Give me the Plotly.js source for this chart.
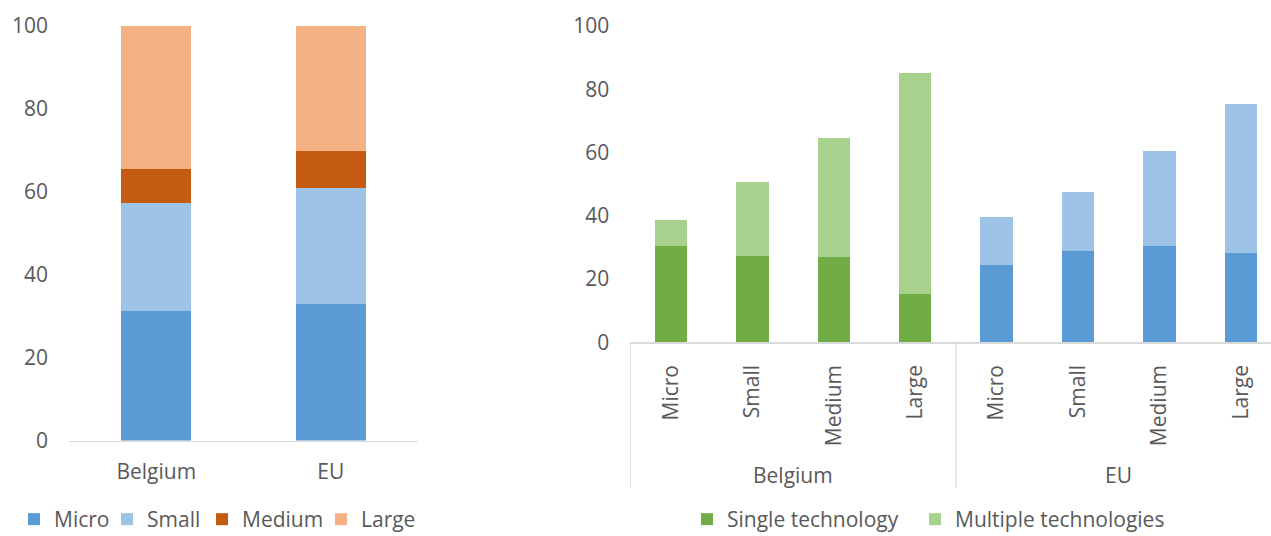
<!DOCTYPE html>
<html><head><meta charset="utf-8">
<script src="https://cdn.plot.ly/plotly-3.0.1.min.js"></script>
<style>html,body{margin:0;padding:0;background:#fff;overflow:hidden}#chart{width:1271px;height:536px}</style>
</head><body><div id="chart"></div>
<script>
// Left chart: share of firms by size class (%)
const countries = ['Belgium', 'EU'];
const shareMicro = [31.2, 32.9];
const shareSmall = [26.0, 27.9];
const shareMedium = [8.2, 9.1];
const shareLarge = [34.6, 30.1];

// Right chart: single vs multiple technologies by size class (%)
const groups = ['Belgium', 'EU'];
const sizeLabels = ['Micro', 'Small', 'Medium', 'Large'];
const belgiumSingle = [30.4, 27.4, 27.1, 15.4];
const belgiumMultiple = [8.3, 23.4, 37.5, 69.8];
const euSingle = [24.4, 28.9, 30.4, 28.2];
const euMultiple = [15.2, 18.6, 30.1, 47.1];

const yTicks = [0, 20, 40, 60, 80, 100];

const FONT = 'Open Sans, Liberation Sans, sans-serif';
const GREY = '#595959';
const LINE = '#D9D9D9';
const FS = 21;

const bePos = sizeLabels.map((_, i) => i);
const euPos = sizeLabels.map((_, i) => i + sizeLabels.length);
const allPos = bePos.concat(euPos);
const allText = sizeLabels.concat(sizeLabels);

function bar(x, y, name, color, xa, ya, legend, show, lw) {
  const t = {type: 'bar', x: x, y: y, name: name, marker: {color: color, line: {width: 0}},
    xaxis: xa, yaxis: ya, legend: legend, showlegend: show, hoverinfo: 'skip'};
  if (lw) t.legendwidth = lw;
  return t;
}

const data = [
  bar(countries, shareMicro, 'Micro', '#5B9BD5', 'x', 'y', 'legend', true, 48),
  bar(countries, shareSmall, 'Small', '#9DC3E6', 'x', 'y', 'legend', true, 50),
  bar(countries, shareMedium, 'Medium', '#C55A11', 'x', 'y', 'legend', true, 74),
  bar(countries, shareLarge, 'Large', '#F4B183', 'x', 'y', 'legend', true, 56),
  bar(bePos, belgiumSingle, 'Single technology', '#70AD47', 'x2', 'y2', 'legend2', true, 183),
  bar(bePos, belgiumMultiple, 'Multiple technologies', '#A9D18E', 'x2', 'y2', 'legend2', true, 215),
  bar(euPos, euSingle, 'Single technology (EU)', '#5B9BD5', 'x2', 'y2', 'legend2', false),
  bar(euPos, euMultiple, 'Multiple technologies (EU)', '#9DC3E6', 'x2', 'y2', 'legend2', false)
];

const mid = arr => (arr[0] + arr[arr.length - 1]) / 2;
const H = 536;
const py = px => 1 - px / H;

const layout = {
  width: 1271, height: 536,
  margin: {l: 0, r: 0, t: 0, b: 0, autoexpand: false},
  paper_bgcolor: '#fff', plot_bgcolor: '#fff',
  font: {family: FONT, size: FS, color: GREY},
  barmode: 'stack', bargap: 0.6,
  xaxis: {domain: [69 / 1271, 418 / 1271], anchor: 'y', type: 'category', range: [-0.5, 1.5],
    showline: true, linecolor: LINE, linewidth: 1.3, showgrid: false, zeroline: false, ticks: '',
    ticklabelstandoff: 12, tickfont: {family: FONT, size: FS, color: GREY}, fixedrange: true},
  yaxis: {domain: [py(440.5), py(26)], anchor: 'x', range: [0, 100], tickvals: yTicks,
    showline: false, showgrid: false, zeroline: false, ticks: '', ticklabelstandoff: 20,
    tickfont: {family: FONT, size: FS, color: GREY}, fixedrange: true},
  xaxis2: {domain: [630.3 / 1271, 1], anchor: 'y2', range: [-0.5, 7.371], tickvals: allPos, ticktext: allText,
    tickangle: -90, showline: true, linecolor: LINE, linewidth: 1.3, showgrid: false, zeroline: false, ticks: '',
    ticklabelstandoff: 13, tickfont: {family: FONT, size: FS, color: GREY}, fixedrange: true},
  yaxis2: {domain: [py(342.3), py(26)], anchor: 'x2', range: [0, 100], tickvals: yTicks,
    showline: false, showgrid: false, zeroline: false, ticks: '', ticklabelstandoff: 20,
    tickfont: {family: FONT, size: FS, color: GREY}, fixedrange: true},
  legend: {orientation: 'h', x: 14 / 1271, xanchor: 'left', y: -4 / H, yanchor: 'bottom',
    traceorder: 'normal', font: {family: FONT, size: FS, color: GREY}, bgcolor: 'rgba(0,0,0,0)'},
  legend2: {orientation: 'h', x: 687 / 1271, xanchor: 'left', y: -4 / H, yanchor: 'bottom',
    traceorder: 'normal', font: {family: FONT, size: FS, color: GREY}, bgcolor: 'rgba(0,0,0,0)'},
  annotations: [
    {text: groups[0], xref: 'x2', yref: 'paper', x: mid(bePos), y: py(475), showarrow: false,
      xanchor: 'center', yanchor: 'middle', font: {family: FONT, size: FS, color: GREY}},
    {text: groups[1], xref: 'x2', yref: 'paper', x: mid(euPos), y: py(475), showarrow: false,
      xanchor: 'center', yanchor: 'middle', font: {family: FONT, size: FS, color: GREY}}
  ],
  shapes: [-0.5, sizeLabels.length - 0.5, 2 * sizeLabels.length - 0.5].map(v => ({
    type: 'line', xref: 'x2', yref: 'paper', x0: v, x1: v, y0: py(342.3), y1: py(488),
    line: {color: LINE, width: 1.3}
  }))
};

Plotly.newPlot('chart', data, layout, {staticPlot: true, displayModeBar: false});
</script>
</body></html>
